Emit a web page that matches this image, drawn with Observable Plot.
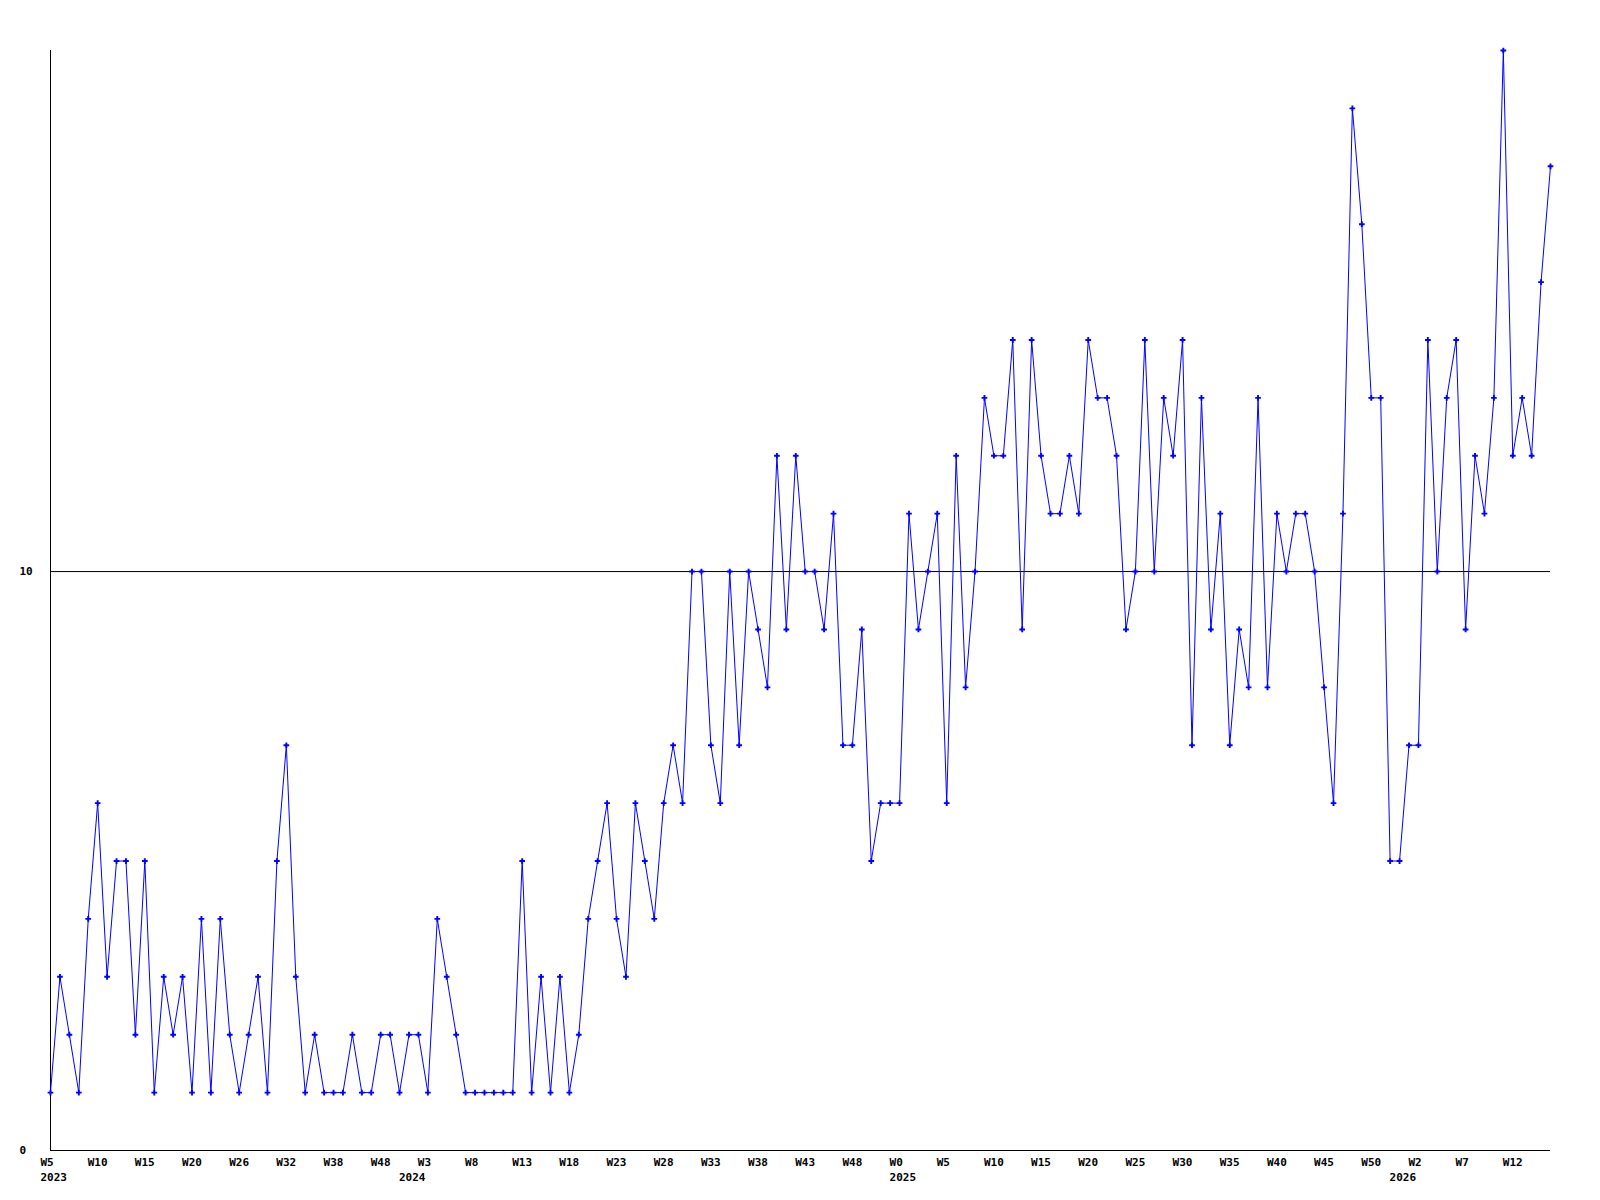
<!DOCTYPE html>
<html><head><meta charset="utf-8">
<script src="https://cdn.jsdelivr.net/npm/d3@7"></script>
<script src="https://cdn.jsdelivr.net/npm/@observablehq/plot@0.6"></script>
<style>body{margin:0;background:#fff}</style>
</head><body><div id="chart"></div>
<script>
const values = [
  1,3,2,1,4,6,3,5,5,2,
  5,1,3,2,3,1,4,1,4,2,
  1,2,3,1,5,7,3,1,2,1,
  1,1,2,1,1,2,2,1,2,2,
  1,4,3,2,1,1,1,1,1,1,
  5,1,3,1,3,1,2,4,5,6,
  4,3,6,5,4,6,7,6,10,10,
  7,6,10,7,10,9,8,12,9,12,
  10,10,9,11,7,7,9,5,6,6,
  6,11,9,10,11,6,12,8,10,13,
  12,12,14,9,14,12,11,11,12,11,
  14,13,13,12,9,10,14,10,13,12,
  14,7,13,9,11,7,9,8,13,8,
  11,10,11,11,10,8,6,11,18,16,
  13,13,5,5,7,7,14,10,13,14,
  9,12,11,13,19,12,13,12,15,17
];
const tickLabels = ["W5","W10","W15","W20","W26","W32","W38","W48","W3","W8","W13","W18","W23","W28","W33","W38","W43","W48","W0","W5","W10","W15","W20","W25","W30","W35","W40","W45","W50","W2","W7","W12"];
const tickStep = 5;
const years = ["2023","2024","2025","2026"];
const yearIndex = [0,38,90,143];
const yTicks = [0,10];

const data = values.map((v,i)=>({i, v}));
const ticks = tickLabels.map((t,k)=>({i:k*tickStep, t}));
const yearData = years.map((y,k)=>({i:yearIndex[k], y}));

const chart = Plot.plot({
  width:1600, height:1200,
  marginLeft:50, marginRight:50, marginTop:50, marginBottom:50,
  x:{domain:[0, values.length-1], axis:null},
  y:{domain:[0,19], axis:null},
  style:{fontFamily:"'DejaVu Sans Mono', monospace", fontSize:"11px", fontWeight:"bold", background:"#fff", color:"#000"},
  marks:[
    Plot.ruleY([10], {stroke:"#000", strokeWidth:1}),
    Plot.ruleX([0], {stroke:"#000", strokeWidth:1}),
    Plot.ruleY([0], {stroke:"#000", strokeWidth:1}),
    Plot.line(data, {x:"i", y:"v", stroke:"#0000ff", strokeWidth:1}),
    Plot.dot(data, {x:"i", y:"v", symbol:"cross", r:2.4, fill:"#0000ff", stroke:null}),
    Plot.text(yTicks, {y:d=>d, frameAnchor:"left", dx:-31, textAnchor:"start", text:d=>String(d), fill:"#000"}),
    Plot.text(ticks, {x:"i", frameAnchor:"bottom", dy:15, dx:-10, textAnchor:"start", text:"t", fill:"#000"}),
    Plot.text(yearData, {x:"i", frameAnchor:"bottom", dy:30, dx:-10, textAnchor:"start", text:"y", fill:"#000"})
  ]
});
document.getElementById("chart").appendChild(chart);
</script>
</body></html>
